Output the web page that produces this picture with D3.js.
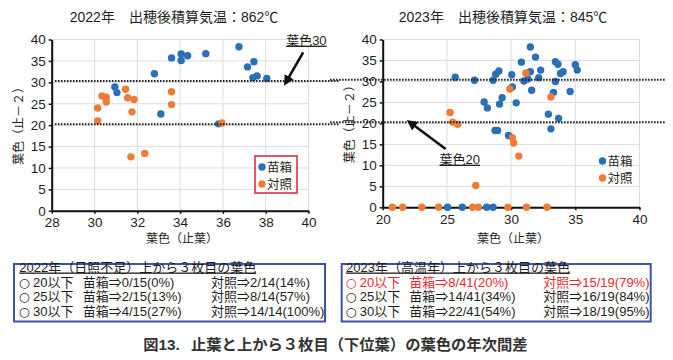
<!DOCTYPE html>
<html>
<head>
<meta charset="utf-8">
<script src="https://cdn.jsdelivr.net/npm/d3@7"></script>
<style>
  body { margin: 0; background: #fff; }
  svg { display: block; font-family: "Liberation Sans", "Noto Sans CJK JP", sans-serif; }
</style>
</head>
<body>
<svg id="chart" width="673" height="360"></svg>
<script>
// ---- data ----
const titles = ['2022年　出穂後積算気温：862℃', '2023年　出穂後積算気温：845℃'];
const seriesNames = ['苗箱', '対照'];
const xTicks22 = [28, 30, 32, 34, 36, 38, 40];
const xTicks23 = [20, 25, 30, 35, 40];
const yTicks = [0, 5, 10, 15, 20, 25, 30, 35, 40];

// [葉色(止葉), 葉色(止-2)]
const nae22 = [[30.95, 28.9], [31.05, 27.6], [32.8, 32.0], [33.1, 22.6], [33.6, 35.7], [34.05, 36.6],
  [34.05, 35.1], [34.35, 36.2], [35.2, 36.7], [36.75, 38.3], [37.15, 33.6], [37.45, 34.8],
  [37.4, 31.1], [37.6, 31.5], [38.05, 30.9], [35.8, 20.3]];
const taisho22 = [[30.15, 24.0], [30.15, 21.0], [30.35, 26.8], [30.55, 26.5], [30.55, 25.4], [31.45, 28.4],
  [31.55, 26.4], [31.85, 26.0], [31.75, 23.1], [31.7, 12.6], [32.35, 13.4], [33.6, 27.8],
  [33.6, 24.8], [35.95, 20.5]];

const nae23 = [[25.65, 31.0], [27.15, 30.3], [28.6, 30.3], [28.8, 31.7], [29.05, 32.5], [27.9, 25.1],
  [28.15, 23.7], [29.3, 26.1], [29.1, 24.6], [28.75, 18.3], [28.95, 18.3], [29.8, 17.1],
  [30.05, 31.6], [30.1, 28.7], [30.4, 24.9], [30.8, 34.6], [31.0, 30.1], [31.3, 30.6],
  [31.5, 38.2], [31.5, 32.3], [31.6, 27.9], [31.9, 35.8], [32.15, 30.9], [32.3, 32.7],
  [32.9, 22.2], [33.1, 18.7], [33.45, 34.7], [33.65, 34.1], [33.45, 30.0], [33.3, 27.4],
  [33.7, 21.2], [33.85, 31.9], [34.05, 32.3], [34.6, 27.6], [35.0, 34.0], [35.15, 32.7],
  [25.05, 0], [26.2, 0], [28.1, 0], [28.6, 0]];
const taisho23 = [[25.25, 22.6], [25.45, 20.3], [25.85, 19.8], [27.25, 5.2], [29.9, 28.2], [31.15, 32.0],
  [30.1, 16.6], [30.2, 15.3], [30.6, 12.2], [33.1, 26.3],
  [20.75, 0], [21.55, 0], [23.05, 0], [24.35, 0], [27.0, 0], [27.45, 0], [29.75, 0], [31.2, 0], [32.8, 0]];

const refLevels22 = [30.3, 20.2];
const refLevels23 = [30.4, 20.3];

const tableTitles = ['2022年（日照不足）上から３枚目の葉色', '2023年（高温年）上から３枚目の葉色'];
const levels = ['20以下', '25以下', '30以下'];
const nae22Rows = ['苗箱⇒0/15(0%)', '苗箱⇒2/15(13%)', '苗箱⇒4/15(27%)'];
const taisho22Rows = ['対照⇒2/14(14%)', '対照⇒8/14(57%)', '対照⇒14/14(100%)'];
const nae23Rows = ['苗箱⇒8/41(20%)', '苗箱⇒14/41(34%)', '苗箱⇒22/41(54%)'];
const taisho23Rows = ['対照⇒15/19(79%)', '対照⇒16/19(84%)', '対照⇒18/19(95%)'];
const caption = ['図13.', '止葉と上から３枚目（下位葉）の葉色の年次間差'];

// ---- style ----
const BLUE = '#2a70b6', ORANGE = '#ee7b36', INK = '#1e1e1e', RED = '#e82a30';

const svg = d3.select('#chart');

svg.append('defs').append('marker')
  .attr('id', 'arrow')
  .attr('viewBox', '0 0 10 10')
  .attr('refX', 2).attr('refY', 5)
  .attr('markerWidth', 4).attr('markerHeight', 4)
  .attr('orient', 'auto-start-reverse')
  .append('path').attr('d', 'M0,0L10,5L0,10z').attr('fill', '#111');

function drawPanel(p) {
  const x = d3.scaleLinear().domain(p.xDomain).range(p.xRange);
  const y = d3.scaleLinear().domain([0, 40]).range(p.yRange);
  const g = svg.append('g');

  g.append('text')
    .attr('x', p.titleX).attr('y', 22)
    .attr('text-anchor', 'middle')
    .attr('font-size', 14).attr('fill', INK)
    .text(p.title);

  // grid
  g.append('g').selectAll('line.vx').data(p.xTicks).enter().append('line')
    .attr('x1', d => x(d)).attr('x2', d => x(d))
    .attr('y1', y(0)).attr('y2', y(40))
    .attr('stroke', '#dcdcdc').attr('stroke-width', 1);
  g.append('g').selectAll('line.hy').data(yTicks).enter().append('line')
    .attr('x1', x.range()[0]).attr('x2', x.range()[1])
    .attr('y1', d => y(d)).attr('y2', d => y(d))
    .attr('stroke', '#dcdcdc').attr('stroke-width', 1);

  // axes
  const ax = g.append('g').attr('transform', 'translate(0,' + y(0) + ')')
    .call(d3.axisBottom(x).tickValues(p.xTicks).tickSize(3).tickSizeOuter(0).tickPadding(4));
  const ay = g.append('g').attr('transform', 'translate(' + x.range()[0] + ',0)')
    .call(d3.axisLeft(y).tickValues(yTicks).tickSize(3).tickSizeOuter(0).tickPadding(3));
  [ax, ay].forEach(a => {
    a.select('.domain').attr('stroke', '#111').attr('stroke-width', 2);
    a.selectAll('.tick line').attr('stroke', '#111').attr('stroke-width', 1.5);
    a.selectAll('.tick text').attr('font-size', 13.5).attr('fill', INK)
      .attr('font-family', '"Liberation Sans", sans-serif');
  });

  g.append('text')
    .attr('x', (x.range()[0] + x.range()[1]) / 2 + 2).attr('y', 243)
    .attr('text-anchor', 'middle').attr('font-size', 12).attr('fill', INK)
    .text('葉色（止葉）');
  g.append('text')
    .attr('transform', 'translate(' + (x.range()[0] - 29) + ',' + y(20.5) + ') rotate(-90)')
    .attr('text-anchor', 'middle').attr('font-size', 12).attr('fill', INK)
    .text('葉色（止－２）');

  // points
  g.append('g').selectAll('circle').data(p.nae).enter().append('circle')
    .attr('cx', d => x(d[0])).attr('cy', d => y(d[1])).attr('r', 3.7).attr('fill', BLUE);
  g.append('g').selectAll('circle').data(p.taisho).enter().append('circle')
    .attr('cx', d => x(d[0])).attr('cy', d => y(d[1])).attr('r', 3.7).attr('fill', ORANGE);

  // reference dotted lines
  g.append('g').selectAll('line').data(p.refLevels).enter().append('line')
    .attr('x1', x(p.refX[0])).attr('x2', x(p.refX[1]))
    .attr('y1', d => y(d)).attr('y2', d => y(d))
    .attr('stroke', '#222').attr('stroke-width', 2).attr('stroke-dasharray', '1.6,1.4');

  // annotation
  const an = p.note;
  g.append('line')
    .attr('x1', x(an.tail[0])).attr('y1', y(an.tail[1]))
    .attr('x2', x(an.tip[0])).attr('y2', y(an.tip[1]))
    .attr('stroke', '#111').attr('stroke-width', 2.6)
    .attr('marker-end', 'url(#arrow)');
  g.append('text')
    .attr('x', x(an.text[0])).attr('y', y(an.text[1]))
    .attr('text-anchor', 'middle').attr('font-size', 13).attr('fill', INK)
    .attr('text-decoration', 'underline')
    .text(an.label);

  // legend
  const lg = g.append('g');
  if (p.legendBox) {
    lg.append('rect')
      .attr('x', p.legendBox[0]).attr('y', p.legendBox[1])
      .attr('width', p.legendBox[2]).attr('height', p.legendBox[3])
      .attr('fill', '#fff').attr('stroke', '#e0455a').attr('stroke-width', 1.8);
  }
  seriesNames.forEach((s, i) => {
    const ly = p.legendY + i * 17;
    lg.append('circle').attr('cx', p.legendX).attr('cy', ly).attr('r', 3.7)
      .attr('fill', i === 0 ? BLUE : ORANGE);
    lg.append('text').attr('x', p.legendX + 5).attr('y', ly + 4.5)
      .attr('font-size', 12.5).attr('fill', INK).text(s);
  });
}

drawPanel({
  title: titles[0], titleX: 174,
  xDomain: [28, 40], xRange: [51.7, 308.5], yRange: [210.8, 39.5],
  xTicks: xTicks22, nae: nae22, taisho: taisho22,
  refLevels: refLevels22, refX: [28.15, 41.4],
  note: { label: '葉色30', tail: [39.75, 37.0], tip: [39.05, 30.9], text: [39.9, 38.8] },
  legendBox: [255, 156, 42, 37], legendX: 262, legendY: 167
});
drawPanel({
  title: titles[1], titleX: 503,
  xDomain: [20, 40], xRange: [382.7, 639.5], yRange: [207.3, 39.5],
  xTicks: xTicks23, nae: nae23, taisho: taisho23,
  refLevels: refLevels23, refX: [15.9, 42.0],
  note: { label: '葉色20', tail: [24.9, 13.9], tip: [22.4, 19.6], text: [26.0, 10.4] },
  legendBox: null, legendX: 602.5, legendY: 161
});

// tables
function drawTable(title, naeRows, taishoRows, box, cols, redFirst) {
  const g = svg.append('g');
  g.append('rect')
    .attr('x', box[0]).attr('y', box[1]).attr('width', box[2]).attr('height', box[3])
    .attr('fill', '#fff').attr('stroke', '#3f52a4').attr('stroke-width', 2);
  const base = [271.5, 286.8, 301.3, 315.8];
  g.append('text').attr('x', cols[0]).attr('y', base[0])
    .attr('font-size', 13).attr('fill', INK).attr('text-decoration', 'underline')
    .text(title);
  const col = i => (redFirst && i === 0) ? RED : INK;

  levels.forEach((l, i) => {
    g.append('text').attr('x', cols[0] - 0.5).attr('y', base[i + 1])
      .attr('font-size', 12.4).attr('font-family', '"DejaVu Sans", sans-serif')
      .attr('fill', col(i)).text('○');
  });
  [levels, naeRows, taishoRows].forEach((arr, j) => {
    arr.forEach((s, i) => {
      g.append('text').attr('x', cols[j + 1]).attr('y', base[i + 1])
        .attr('font-size', 13).attr('fill', col(i)).text(s);
    });
  });
}
drawTable(tableTitles[0], nae22Rows, taisho22Rows, [14, 264, 311, 57.5], [19.3, 33, 82.7, 211], false);
drawTable(tableTitles[1], nae23Rows, taisho23Rows, [341.7, 264, 309, 57.5], [346, 359.7, 409.3, 543.3], true);

svg.append('text').attr('x', 143.3).attr('y', 349.5)
  .attr('font-size', 15.3).attr('font-weight', 'bold').attr('fill', '#333')
  .text(caption[0]);
svg.append('text').attr('x', 191).attr('y', 349.5)
  .attr('font-size', 15.3).attr('font-weight', 'bold').attr('fill', '#333')
  .text(caption[1]);
</script>
</body>
</html>
